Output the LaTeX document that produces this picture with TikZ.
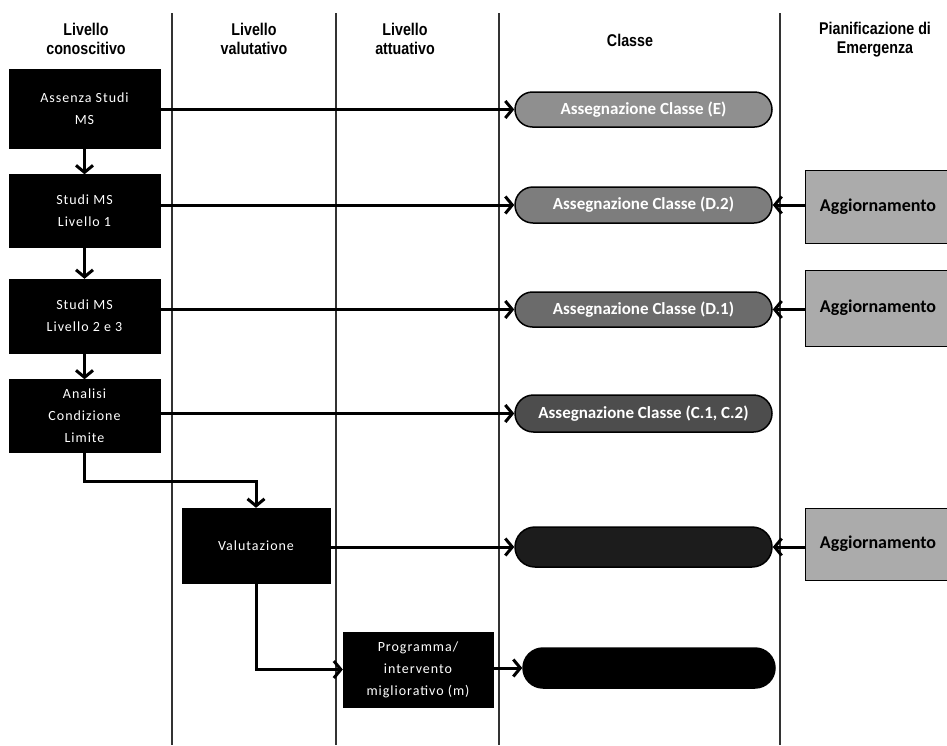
\documentclass[tikz,border=0pt]{standalone}
\usepackage{fontspec}
\setmainfont{Carlito}
\newfontfamily\headfont[FakeStretch=0.84]{Liberation Sans}
\newfontfamily\boxfont[LetterSpace=7]{Carlito}
\usetikzlibrary{arrows.meta,calc,shapes.misc}
\definecolor{pillA}{HTML}{8F8F8F}
\definecolor{pillB}{HTML}{7D7D7D}
\definecolor{pillC}{HTML}{6B6B6B}
\definecolor{pillD}{HTML}{4D4D4D}
\definecolor{pillE}{HTML}{1C1C1C}
\definecolor{updgray}{HTML}{ABABAB}
\begin{document}
\begin{tikzpicture}[x=1pt,y=-1pt,
  head/.style={font=\headfont\bfseries\fontsize{17}{19}\selectfont, align=center, text=black, inner sep=0pt},
  stage/.style={fill=black, draw=black, text=white, font=\boxfont\fontsize{14}{22}\selectfont, align=center, minimum width=151pt, inner sep=0pt},
  pill/.style={rounded rectangle, draw=black, line width=1.5pt, minimum width=257pt, inner sep=0pt, text=white, font=\bfseries\fontsize{17}{19}\selectfont},
  upd/.style={draw=black, line width=1pt, fill=updgray, minimum width=145pt, font=\bfseries\fontsize{18}{20}\selectfont, anchor=west, inner sep=0pt},
  lane/.style={draw=black!80, line width=1.2pt},
  flow/.style={line width=3pt, -{Straight Barb[length=7pt,width=17pt]}},
]
\useasboundingbox (0,0) rectangle (947,745);
% swim lanes
\draw[lane] (172,13) -- (172,745);
\draw[lane] (336,13) -- (336,745);
\draw[lane] (499,13) -- (499,745);
\draw[lane] (780,13) -- (780,745);
% headers
\node[head] (h1) at (86,39) {Livello\\conoscitivo};
\node[head] (h2) at (254,39) {Livello\\valutativo};
\node[head] (h3) at (405,39) {Livello\\attuativo};
\node[head] (h4) at (630,40) {Classe};
\node[head] (h5) at (875,40) {Pianificazione di\\Emergenza};
% stages
\node[stage, minimum height=79pt] (b1) at (84.5,109) {Assenza Studi\\MS};
\node[stage, minimum height=73pt] (b2) at (84.5,211) {Studi MS\\Livello 1};
\node[stage, minimum height=74pt] (b3) at (84.5,316) {Studi MS\\Livello 2 e 3};
\node[stage, minimum height=73pt] (b4) at (84.5,416) {Analisi\\Condizione\\Limite};
\node[stage, minimum width=148pt, minimum height=75pt] (v) at (256,545.5) {Valutazione};
\node[stage, minimum width=150pt, minimum height=75pt] (pr) at (418,669.5) {Programma/\\intervento\\migliorativo (m)};
% classes
\node[pill, fill=pillA, minimum height=35pt] (p1) at (643.5,109.5) {Assegnazione Classe (E)};
\node[pill, fill=pillB, minimum height=36pt] (p2) at (643.5,205) {Assegnazione Classe (D.2)};
\node[pill, fill=pillC, minimum height=35pt] (p3) at (643.5,309.5) {Assegnazione Classe (D.1)};
\node[pill, fill=pillD, minimum height=37pt] (p4) at (643.5,413.5) {Assegnazione Classe (C.1, C.2)};
\node[pill, fill=pillE, minimum height=40pt] (p5) at (643.5,547) {};
\node[pill, fill=black, minimum width=252pt, minimum height=40pt] (p6) at (649,668) {};
% emergency planning
\node[upd, minimum height=73pt] (a1) at (805,206.5) {Aggiornamento};
\node[upd, minimum height=76pt] (a2) at (805,308) {Aggiornamento};
\node[upd, minimum height=72pt] (a3) at (805,544) {Aggiornamento};
% flows
\draw[flow] (b1.south) -- (b2.north);
\draw[flow] (b2.south) -- (b3.north);
\draw[flow] (b3.south) -- (b4.north);
\draw[flow] (b1.east |- p1.west) -- (p1.west);
\draw[flow] (b2.east |- p2.west) -- (p2.west);
\draw[flow] (b3.east |- p3.west) -- (p3.west);
\draw[flow] (b4.east |- p4.west) -- (p4.west);
\draw[flow] (v.east |- p5.west) -- (p5.west);
\draw[flow] (pr.east |- p6.west) -- (p6.west);
\coordinate (k1) at (84.5,481);
\draw[flow] (b4.south) -- (k1) -| (v.north);
\draw[flow] (v.south) |- (pr.west);
\draw[flow] (a1.west |- p2.east) -- (p2.east);
\draw[flow] (a2.west |- p3.east) -- (p3.east);
\draw[flow] (a3.west |- p5.east) -- (p5.east);
\end{tikzpicture}
\end{document}
